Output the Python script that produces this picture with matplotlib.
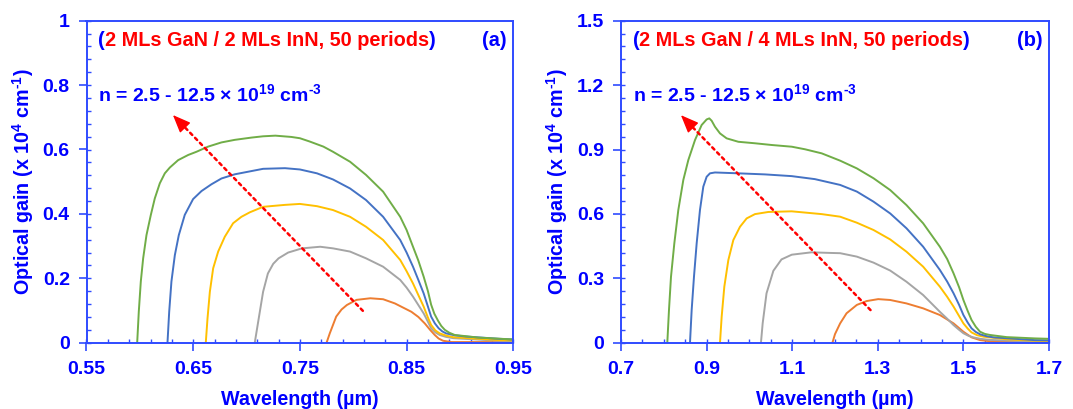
import matplotlib
matplotlib.use("Agg")
import matplotlib.pyplot as plt
from matplotlib.ticker import MultipleLocator

plt.rcParams['font.family'] = ['Liberation Sans', 'DejaVu Sans']
plt.rcParams['font.weight'] = 'bold'
plt.rcParams['mathtext.fontset'] = 'custom'
plt.rcParams['mathtext.rm'] = 'Liberation Sans:bold'
plt.rcParams['mathtext.bf'] = 'Liberation Sans:bold'
plt.rcParams['mathtext.default'] = 'rm'

BLUE_TXT = '#0000FF'
BLUE_AX = '#2F4BFF'
RED = '#FF0000'
C_GREEN = '#70AD47'
C_BLUE = '#4472C4'
C_YELLOW = '#FFC000'
C_GRAY = '#A5A5A5'
C_ORANGE = '#ED7D31'

# ---------- (a) 2 MLs GaN / 2 MLs InN ----------
a_green_x = [0.5975, 0.5990, 0.6009, 0.6031, 0.6062, 0.6103, 0.6140, 0.6187, 0.6234, 0.6281,
             0.6359, 0.6453, 0.6531, 0.6640, 0.6765, 0.6890, 0.7046, 0.7155, 0.7270, 0.7420,
             0.7500, 0.7590, 0.7720, 0.7810, 0.7970, 0.8120, 0.8280, 0.8440, 0.8500, 0.8560,
             0.8610, 0.8660, 0.8700, 0.8730, 0.8760, 0.8795, 0.8825, 0.8858, 0.8900, 0.8951,
             0.9170, 0.9500]
a_green_y = [0.000, 0.096, 0.190, 0.262, 0.334, 0.397, 0.448, 0.495, 0.526, 0.544,
             0.567, 0.583, 0.593, 0.609, 0.622, 0.630, 0.637, 0.641, 0.643, 0.639,
             0.635, 0.625, 0.609, 0.593, 0.562, 0.521, 0.469, 0.391, 0.350, 0.298,
             0.255, 0.205, 0.160, 0.118, 0.090, 0.068, 0.052, 0.040, 0.031, 0.024,
             0.016, 0.010]

a_blue_x = [0.6259, 0.6275, 0.6296, 0.6328, 0.6365, 0.6421, 0.6499, 0.6578, 0.6671, 0.6765,
            0.6890, 0.7015, 0.7155, 0.7360, 0.7500, 0.7660, 0.7810, 0.7970, 0.8120, 0.8280,
            0.8440, 0.8500, 0.8560, 0.8610, 0.8660, 0.8700, 0.8730, 0.8765, 0.8800, 0.8835,
            0.8870, 0.8950, 0.9060, 0.9370, 0.9500]
a_blue_y = [0.000, 0.096, 0.190, 0.272, 0.334, 0.397, 0.446, 0.471, 0.492, 0.510,
            0.523, 0.531, 0.540, 0.542, 0.538, 0.526, 0.507, 0.479, 0.443, 0.391,
            0.319, 0.280, 0.236, 0.195, 0.153, 0.112, 0.081, 0.060, 0.045, 0.035,
            0.029, 0.023, 0.019, 0.012, 0.010]

a_yellow_x = [0.6618, 0.6634, 0.6656, 0.6687, 0.6734, 0.6796, 0.6874, 0.6952, 0.7031, 0.7155,
              0.7360, 0.7500, 0.7660, 0.7810, 0.7970, 0.8120, 0.8280, 0.8440, 0.8500, 0.8560,
              0.8610, 0.8660, 0.8700, 0.8730, 0.8770, 0.8810, 0.8870, 0.8940, 0.9370, 0.9500]
a_yellow_y = [0.000, 0.075, 0.158, 0.231, 0.283, 0.329, 0.371, 0.391, 0.405, 0.422,
              0.428, 0.431, 0.424, 0.412, 0.391, 0.360, 0.319, 0.257, 0.222, 0.184,
              0.148, 0.112, 0.078, 0.055, 0.038, 0.029, 0.022, 0.017, 0.008, 0.007]

a_gray_x = [0.7077, 0.7109, 0.7155, 0.7200, 0.7250, 0.7300, 0.7390, 0.7520, 0.7690, 0.7810,
            0.7970, 0.8120, 0.8280, 0.8440, 0.8500, 0.8560, 0.8610, 0.8660, 0.8700, 0.8730,
            0.8770, 0.8810, 0.8870, 0.8940, 0.9370, 0.9500]
a_gray_y = [0.000, 0.065, 0.158, 0.215, 0.245, 0.262, 0.280, 0.293, 0.298, 0.293,
            0.283, 0.262, 0.236, 0.195, 0.171, 0.143, 0.117, 0.091, 0.065, 0.045,
            0.032, 0.024, 0.018, 0.014, 0.006, 0.005]

a_orange_x = [0.7750, 0.7780, 0.7840, 0.7890, 0.7940, 0.8030, 0.8160, 0.8280, 0.8390, 0.8545,
              0.8610, 0.8670, 0.8720, 0.8764, 0.8800, 0.8842, 0.8920, 0.9500]
a_orange_y = [0.000, 0.029, 0.081, 0.103, 0.117, 0.133, 0.138, 0.135, 0.122, 0.096,
              0.080, 0.060, 0.040, 0.024, 0.013, 0.006, 0.002, 0.002]

# ---------- (b) 2 MLs GaN / 4 MLs InN ----------
b_green_x = [0.8082, 0.8121, 0.8168, 0.8246, 0.8339, 0.8456, 0.8573, 0.8729, 0.8884, 0.9001,
             0.9063, 0.9118, 0.9196, 0.9313, 0.9468, 0.9741, 1.0130, 1.0520, 1.0990, 1.1300,
             1.1690, 1.2120, 1.2510, 1.2900, 1.3290, 1.3670, 1.4060, 1.4450, 1.4620, 1.4770,
             1.4900, 1.5000, 1.5100, 1.5190, 1.5290, 1.5390, 1.5500, 1.5620, 1.6010, 1.6670,
             1.7000]
b_green_y = [0.000, 0.152, 0.307, 0.463, 0.618, 0.758, 0.851, 0.944, 1.014, 1.040,
             1.045, 1.034, 1.006, 0.975, 0.952, 0.936, 0.929, 0.921, 0.913, 0.901,
             0.882, 0.848, 0.812, 0.766, 0.711, 0.641, 0.556, 0.447, 0.390, 0.323,
             0.258, 0.199, 0.148, 0.106, 0.074, 0.051, 0.041, 0.036, 0.026, 0.020,
             0.018]

b_blue_x = [0.8612, 0.8651, 0.8705, 0.8768, 0.8845, 0.8923, 0.9001, 0.9079, 0.9196, 0.9741,
            1.0364, 1.0987, 1.1530, 1.2120, 1.2510, 1.2900, 1.3290, 1.3670, 1.4060, 1.4450,
            1.4620, 1.4770, 1.4900, 1.5000, 1.5100, 1.5190, 1.5290, 1.5390, 1.5550, 1.5700,
            1.6670, 1.7000]
b_blue_y = [0.000, 0.152, 0.307, 0.463, 0.618, 0.727, 0.773, 0.789, 0.793, 0.789,
            0.784, 0.776, 0.762, 0.735, 0.704, 0.657, 0.602, 0.533, 0.447, 0.339,
            0.285, 0.230, 0.176, 0.129, 0.094, 0.067, 0.050, 0.039, 0.030, 0.025,
            0.012, 0.011]

b_yellow_x = [0.9313, 0.9352, 0.9414, 0.9508, 0.9624, 0.9780, 0.9936, 1.0130, 1.0442, 1.0987,
              1.1690, 1.2120, 1.2510, 1.2900, 1.3290, 1.3670, 1.4060, 1.4450, 1.4620, 1.4770,
              1.4900, 1.5000, 1.5100, 1.5190, 1.5320, 1.5470, 1.6010, 1.6670, 1.7000]
b_yellow_y = [0.000, 0.121, 0.261, 0.385, 0.478, 0.540, 0.579, 0.599, 0.609, 0.612,
              0.599, 0.587, 0.559, 0.525, 0.481, 0.424, 0.354, 0.261, 0.214, 0.168,
              0.124, 0.090, 0.066, 0.048, 0.035, 0.028, 0.016, 0.009, 0.008]

b_gray_x = [1.0270, 1.0310, 1.0400, 1.0560, 1.0750, 1.0990, 1.1450, 1.1920, 1.2120, 1.2510,
            1.2900, 1.3290, 1.3670, 1.4060, 1.4450, 1.4620, 1.4770, 1.4900, 1.5000, 1.5120,
            1.5230, 1.5400, 1.5620, 1.6670, 1.7000]
b_gray_y = [0.000, 0.090, 0.230, 0.335, 0.388, 0.410, 0.421, 0.418, 0.417, 0.401,
            0.373, 0.336, 0.284, 0.222, 0.144, 0.112, 0.082, 0.060, 0.044, 0.032,
            0.025, 0.018, 0.013, 0.005, 0.005]

b_orange_x = [1.1940, 1.2000, 1.2120, 1.2270, 1.2510, 1.2740, 1.3010, 1.3290, 1.3670, 1.4060,
              1.4450, 1.4770, 1.5000, 1.5190, 1.5390, 1.5700, 1.7000]
b_orange_y = [0.000, 0.040, 0.090, 0.137, 0.176, 0.194, 0.203, 0.199, 0.183, 0.160,
              0.129, 0.090, 0.051, 0.025, 0.012, 0.005, 0.002]

# axis ranges
a_xlim, a_ylim = (0.55, 0.95), (0.0, 1.0)
b_xlim, b_ylim = (0.7, 1.7), (0.0, 1.5)

panels = [
    dict(xlim=a_xlim, ylim=a_ylim, xmaj=(0.1, 0.05), xmin=(0.02, 0.01), ymaj=0.2, ymin=0.04,
         xfmt='{:.2f}', yfmt=lambda v: '{:g}'.format(round(v, 3)),
         curves=[(a_orange_x, a_orange_y, C_ORANGE), (a_gray_x, a_gray_y, C_GRAY),
                 (a_yellow_x, a_yellow_y, C_YELLOW), (a_blue_x, a_blue_y, C_BLUE),
                 (a_green_x, a_green_y, C_GREEN)],
         arrow=((0.809, 0.099), (0.631, 0.707)),
         struct='2 MLs GaN / 2 MLs InN, 50 periods', tag='(a)'),
    dict(xlim=b_xlim, ylim=b_ylim, xmaj=(0.2, 0.1), xmin=(0.05, 0.0), ymaj=0.3, ymin=0.06,
         xfmt='{:.1f}', yfmt=lambda v: '0' if abs(v) < 1e-9 else '{:.1f}'.format(v),
         curves=[(b_orange_x, b_orange_y, C_ORANGE), (b_gray_x, b_gray_y, C_GRAY),
                 (b_yellow_x, b_yellow_y, C_YELLOW), (b_blue_x, b_blue_y, C_BLUE),
                 (b_green_x, b_green_y, C_GREEN)],
         arrow=((1.283, 0.152), (0.840, 1.060)),
         struct='2 MLs GaN / 4 MLs InN, 50 periods', tag='(b)'),
]

fig = plt.figure(figsize=(10.73, 4.09), dpi=100)
W, H = 1073, 409
boxes = [(86.5, 513.3), (621.0, 1049.0)]
bottom_px, top_px = 342.7, 20.7

for p, (l, r) in zip(panels, boxes):
    ax = fig.add_axes([l / W, 1 - bottom_px / H, (r - l) / W, (bottom_px - top_px) / H])
    for xs, ys, c in p['curves']:
        ax.plot(xs, ys, color=c, lw=1.4, solid_joinstyle='round')
    ax.set_xlim(*p['xlim'])
    ax.set_ylim(*p['ylim'])

    ax.xaxis.set_major_locator(MultipleLocator(p['xmaj'][0], offset=p['xmaj'][1]))
    ax.xaxis.set_minor_locator(MultipleLocator(p['xmin'][0], offset=p['xmin'][1]))
    ax.yaxis.set_major_locator(MultipleLocator(p['ymaj']))
    ax.yaxis.set_minor_locator(MultipleLocator(p['ymin']))
    ax.xaxis.remove_overlapping_locs = False
    ax.yaxis.remove_overlapping_locs = False
    ax.xaxis.set_major_formatter(lambda v, pos, f=p['xfmt']: f.format(v))
    ax.yaxis.set_major_formatter(lambda v, pos, f=p['yfmt']: f(v))

    ax.tick_params(which='major', direction='out', length=5.5, width=1.2, color=BLUE_AX,
                   labelsize=14, labelcolor=BLUE_TXT, top=False, right=False)
    ax.tick_params(axis='x', which='major', pad=8)
    ax.tick_params(axis='y', which='major', pad=6.5)
    ax.tick_params(which='minor', direction='in', length=3.2, width=1.0, color=BLUE_AX,
                   top=False, right=False)
    for lab in ax.get_xticklabels() + ax.get_yticklabels():
        lab.set_fontweight('bold')
    for s in ax.spines.values():
        s.set_color(BLUE_AX)
        s.set_linewidth(1.4)

    ax.set_xlabel('Wavelength (µm)', fontsize=14.2, fontweight='bold', color=BLUE_TXT, labelpad=8)
    ax.set_ylabel(r'Optical gain (x 10$^{4}$ cm$^{\text{-}1}$)', fontsize=14.2, fontweight='bold',
                  color=BLUE_TXT, labelpad=5)

    # dotted red trend arrow: dotted shaft plus a solid head at the tip
    (x0, y0), (x1, y1) = p['arrow']
    hx, hy = x1 + 0.055 * (x0 - x1), y1 + 0.055 * (y0 - y1)
    ax.annotate('', xy=(hx, hy), xytext=(x0, y0),
                arrowprops=dict(arrowstyle='-', color=RED, lw=1.8,
                                linestyle=(0, (1.2, 1.6)), shrinkA=0, shrinkB=0))
    ax.annotate('', xy=(x1, y1), xytext=(hx, hy),
                arrowprops=dict(arrowstyle='-|>,head_length=1.1,head_width=0.45',
                                color=RED, lw=1.0, shrinkA=0, shrinkB=0))

    # structure description: blue brackets around red text
    t0 = ax.text(0.027, 0.92, '(', transform=ax.transAxes, fontsize=14.3, fontweight='bold',
                 color=BLUE_TXT, va='baseline', ha='left')
    t1 = ax.annotate(p['struct'], xy=(1, 0.92), xycoords=(t0, 'axes fraction'),
                     fontsize=14.3, fontweight='bold', color=RED, va='baseline', ha='left')
    ax.annotate(')', xy=(1, 0.92), xycoords=(t1, 'axes fraction'),
                fontsize=14.3, fontweight='bold', color=BLUE_TXT, va='baseline', ha='left')
    ax.text(0.985, 0.92, p['tag'], transform=ax.transAxes, fontsize=14.3, fontweight='bold',
            color=BLUE_TXT, va='baseline', ha='right')
    ax.text(0.027, 0.75, r'n = 2.5 - 12.5 × 10$^{19}$ cm$^{\text{-}3}$', transform=ax.transAxes,
            fontsize=14, fontweight='bold', color=BLUE_TXT, va='baseline', ha='left')

fig.savefig('out.png', dpi=100)
